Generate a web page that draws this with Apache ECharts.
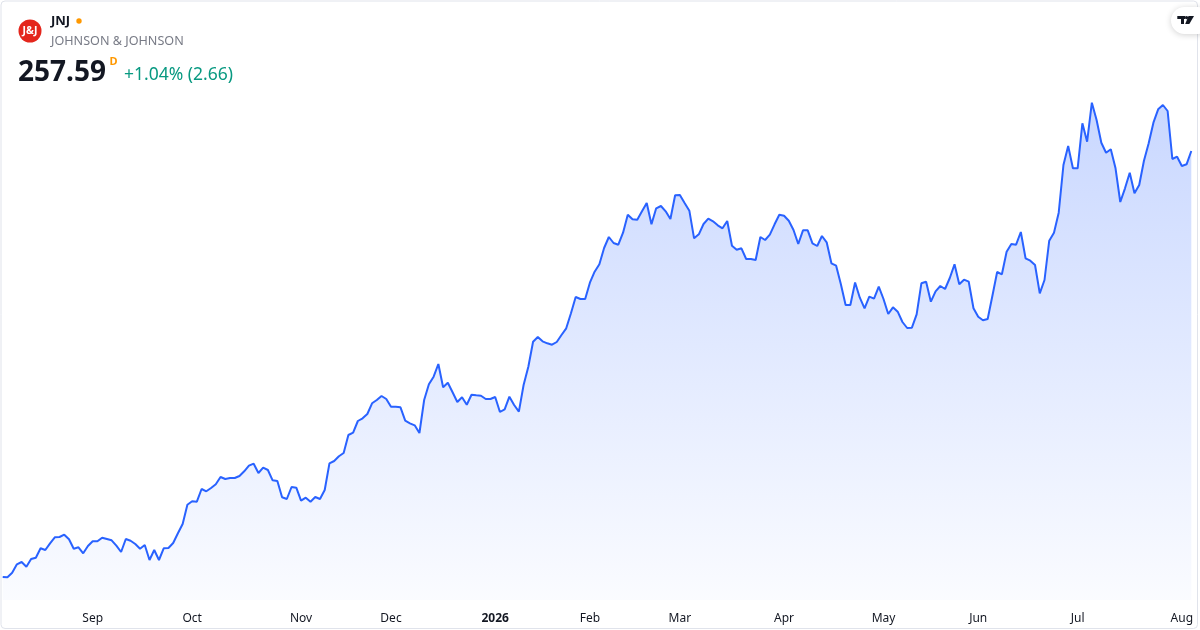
<!DOCTYPE html>
<html>
<head>
<meta charset="utf-8">
<script src="https://cdn.jsdelivr.net/npm/echarts@6/dist/echarts.min.js"></script>
<style>
html,body{margin:0;padding:0;background:#fff;}
#chart{width:1200px;height:630px;}
</style>
</head>
<body>
<div id="chart"></div>
<script>
// Daily closes, JNJ, Aug 5 2025 – Aug 4 2026
const closes = [
172.39,172.33,173.25,174.93,175.39,174.45,175.99,176.25,178.13,177.79,
179.13,180.33,180.39,180.85,179.93,178.05,178.33,177.13,178.59,179.53,
179.53,180.25,179.99,179.73,178.65,177.39,179.99,179.65,178.99,178.05,
178.79,175.79,177.79,175.79,178.13,178.19,179.19,181.13,182.99,186.85,
187.53,187.45,189.99,189.53,190.19,190.93,192.39,191.99,192.19,192.19,
192.59,193.53,194.65,195.05,193.19,194.25,193.79,191.73,191.59,188.33,
187.99,190.39,190.25,187.65,188.25,187.45,188.39,187.99,189.79,195.13,
195.59,196.53,197.19,200.79,201.25,203.59,204.13,204.99,207.13,207.79,
208.59,207.99,206.45,206.45,206.33,203.65,203.13,202.73,201.19,207.79,
210.93,212.45,214.99,210.33,211.25,209.33,207.39,208.33,206.85,208.85,
208.73,208.65,207.99,207.99,208.39,205.39,205.93,208.45,206.79,205.45,
210.79,214.45,219.45,220.39,219.53,219.13,218.85,219.39,220.79,222.13,
225.13,228.39,227.99,227.99,231.25,233.45,234.93,238.19,240.39,239.19,
238.85,241.25,244.85,243.93,243.85,245.53,247.19,242.93,246.13,246.59,
245.53,243.99,248.73,248.79,247.19,245.65,240.13,240.93,242.99,244.05,
243.53,242.73,242.13,243.59,238.65,237.85,238.13,235.99,235.99,235.79,
240.39,239.79,240.85,242.93,244.85,244.65,243.65,241.79,238.99,241.73,
241.73,239.13,238.59,240.59,239.33,235.13,234.65,230.93,226.79,226.79,
231.29,228.25,226.13,228.45,228.05,230.45,227.99,224.99,226.33,225.45,
223.39,222.19,222.25,224.93,231.13,231.45,227.45,229.53,230.59,229.99,
232.19,234.93,230.93,231.85,231.45,226.13,224.45,223.73,223.99,228.65,
233.39,232.93,237.45,238.99,238.85,241.39,236.13,235.65,234.79,229.13,
231.79,239.65,241.25,245.25,254.79,258.59,254.13,254.13,263.13,259.45,
267.25,263.79,259.25,257.25,257.93,254.13,247.39,250.13,253.25,249.13,
250.79,255.65,259.13,263.25,265.93,266.79,265.59,255.99,256.45,254.59,
254.93,257.59
];
// month tick labels and the trading-day index where each month starts
const tickLabels = ['Sep','Oct','Nov','Dec','2026','Feb','Mar','Apr','May','Jun','Jul','Aug'];
const tickIndex  = [19, 40, 63, 82, 104, 124, 143, 165, 186, 206, 227, 249];

const categories = closes.map((v, i) => {
  const k = tickIndex.indexOf(i);
  return k >= 0 ? tickLabels[k] : '';
});

const FONT = '"Noto Sans", "Open Sans", sans-serif';
const chart = echarts.init(document.getElementById('chart'), null, {renderer: 'canvas'});

chart.setOption({
  animation: false,
  backgroundColor: '#ffffff',
  grid: {left: 2.7, right: 8.7, top: 100, bottom: 30, containLabel: false},
  xAxis: {
    type: 'category',
    data: categories,
    boundaryGap: false,
    axisLine: {show: false},
    axisTick: {show: false},
    splitLine: {show: false},
    axisLabel: {
      interval: (idx) => tickIndex.indexOf(idx) >= 0,
      color: '#131722',
      fontSize: 12,
      fontFamily: FONT,
      margin: 13,
      formatter: (v) => v === '2026' ? '{b|2026}' : v,
      rich: {b: {fontWeight: 'bold', fontSize: 12, color: '#131722', fontFamily: FONT}}
    }
  },
  yAxis: {
    type: 'value',
    min: 167.79,
    max: 267.79,
    show: false,
    splitLine: {show: false}
  },
  series: [{
    type: 'line',
    data: closes,
    symbol: 'none',
    smooth: false,
    lineStyle: {color: '#2962FF', width: 2},
    areaStyle: {
      color: new echarts.graphic.LinearGradient(0, 0, 0, 1, [
        {offset: 0, color: 'rgba(41,98,255,0.36)'},
        {offset: 1, color: 'rgba(41,98,255,0.03)'}
      ])
    }
  }],
  graphic: [
    {type: 'rect', shape: {x: 1, y: 1, width: 1196.5, height: 627.5, r: 4},
     style: {fill: 'none', stroke: '#e0e3eb', lineWidth: 1}, silent: true},
    // header
    {type: 'circle', shape: {cx: 30, cy: 31, r: 11.5}, style: {fill: '#e4261c'}},
    {type: 'text', x: 30, y: 31.5, style: {text: 'J&J', fill: '#ffffff', font: 'bold 10.5px ' + FONT, textAlign: 'center', textVerticalAlign: 'middle'}},
    {type: 'text', x: 51, y: 21, style: {text: 'JNJ', fill: '#131722', font: 'bold 13px ' + FONT, textAlign: 'left', textVerticalAlign: 'middle'}},
    {type: 'circle', shape: {cx: 79, cy: 21, r: 2.7}, style: {fill: '#ff9800'}},
    {type: 'text', x: 51, y: 41, style: {text: 'JOHNSON & JOHNSON', fill: '#787b86', font: '12.6px ' + FONT, textAlign: 'left', textVerticalAlign: 'middle'}},
    {type: 'text', x: 18, y: 73, style: {text: '257.59', fill: '#131722', font: 'bold 28px ' + FONT, textAlign: 'left', textVerticalAlign: 'middle'}},
    {type: 'text', x: 109.5, y: 61.5, style: {text: 'D', fill: '#ff9800', font: 'bold 11px ' + FONT, textAlign: 'left', textVerticalAlign: 'middle'}},
    {type: 'text', x: 124, y: 75, style: {text: '+1.04% (2.66)', fill: '#089981', font: '17.5px ' + FONT, textAlign: 'left', textVerticalAlign: 'middle'}},
    // TradingView badge
    {type: 'rect', shape: {x: 1171, y: 7, width: 40, height: 27, r: 13.5},
     style: {fill: '#ffffff', shadowBlur: 6, shadowColor: 'rgba(0,0,0,0.18)', shadowOffsetY: 1}},
    {type: 'rect', shape: {x: 1177.3, y: 16, width: 8, height: 3}, style: {fill: '#131722'}},
    {type: 'rect', shape: {x: 1181, y: 16, width: 3, height: 8}, style: {fill: '#131722'}},
    {type: 'circle', shape: {cx: 1186.6, cy: 17.6, r: 1.6}, style: {fill: '#131722'}},
    {type: 'polygon', shape: {points: [[1188.5, 16], [1194, 16], [1189.3, 24], [1185.2, 24]]}, style: {fill: '#131722'}}
  ]
});
</script>
</body>
</html>
